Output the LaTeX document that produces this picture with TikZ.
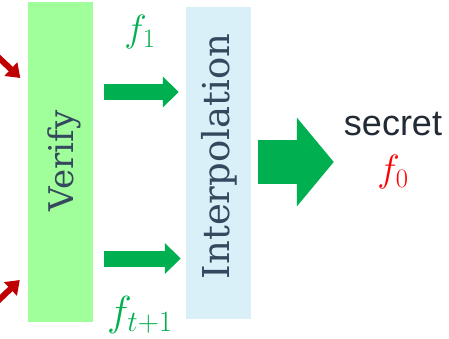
\RequirePackage{fix-cm}
\documentclass[tikz,border=0pt]{standalone}
\usepackage{fontspec}
\setmainfont{DejaVu Serif}
\newfontfamily\labelsans{Liberation Sans}
\usetikzlibrary{arrows.meta,calc}
\definecolor{verifygreen}{HTML}{A0FF9A}
\definecolor{interpblue}{HTML}{DAF0F8}
\definecolor{slatetext}{HTML}{34495E}
\definecolor{flowgreen}{HTML}{00B050}
\definecolor{deepred}{HTML}{C00000}
\definecolor{inkdark}{HTML}{222A35}
\definecolor{secretred}{HTML}{FF0000}

\begin{document}
\begin{tikzpicture}[x=1pt,y=-1pt,
  panel/.style={draw=none, inner sep=0pt, minimum width=65pt},
  paneltext/.style={rotate=90, text=slatetext, inner sep=0pt},
  flow/.style={draw=flowgreen, line width=16pt, -{Triangle[length=16pt,width=30pt]}},
  bigflow/.style={draw=flowgreen, line width=44pt, -{Triangle[length=37pt,width=87pt]}},
  share/.style={draw=deepred, line width=6pt, -{Triangle[length=13pt,width=18pt]}},
  mathlabel/.style={inner sep=0pt, font=\fontsize{38}{38}\selectfont}
]
\useasboundingbox (0,0) rectangle (449,339);
\clip (0,0) rectangle (449,339);

% the two processing panels
\node[panel, fill=verifygreen, minimum height=320pt] (verify) at (60.5,162) {};
\node[paneltext, font=\fontsize{34}{34}\selectfont] (verifytext) at (64.5,161) {Verify};

\node[panel, fill=interpblue, minimum height=312pt] (interp) at (218.5,163) {};
\node[paneltext, font=\fontsize{37}{37}\selectfont] (interptext) at (219.5,156.5) {Interpolation};

% rows along which the shares travel
\coordinate (rowtop) at (0,92);
\coordinate (rowbot) at (0,258.5);
\coordinate (rowout) at (0,162);

% labels
\node[mathlabel, text=flowgreen] (fone) at (140,32) {$f_1$};
\node[mathlabel, text=flowgreen, font=\fontsize{42}{42}\selectfont] (flast) at (140,315) {$f_{t+1}$};
\node[inner sep=0pt, text=inkdark, font=\labelsans\fontsize{36}{36}\selectfont] (secret) at (393,124) {secret};
\node[mathlabel, text=secretred] (fzero) at (393,172) {$f_0$};

% shares arriving from the left
\coordinate (inA) at (-20,40);
\coordinate (inAtip) at ($(verify.west |- 0,78)+(-7.5,0)$);
\coordinate (inB) at (-20,318);
\coordinate (inBtip) at ($(verify.west |- 0,280)+(-8,0)$);
\draw[share] (inA) -- (inAtip);
\draw[share] (inB) -- (inBtip);

% verified shares into interpolation
\draw[flow] ($(verify.east |- rowtop)+(11,0)$) -- ($(interp.west |- rowtop)+(-7,0)$);
\draw[flow] ($(verify.east |- rowbot)+(11,0)$) -- ($(interp.west |- rowbot)+(-5,0)$);

% reconstructed secret
\draw[bigflow] ($(interp.east |- rowout)+(7,0)$) -- ($(secret.west |- rowout)+(-10,0)$);
\end{tikzpicture}
\end{document}
